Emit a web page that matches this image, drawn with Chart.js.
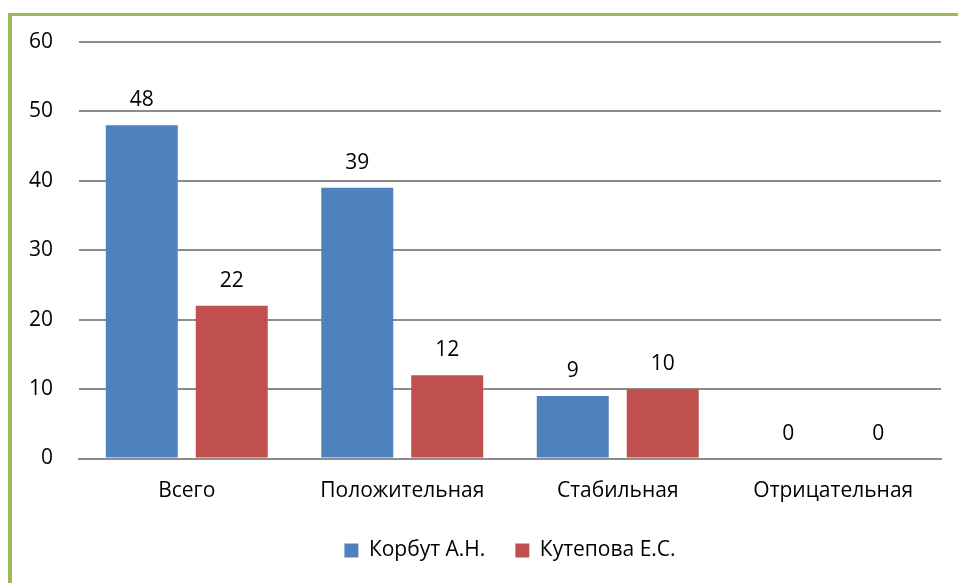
<!DOCTYPE html>
<html>
<head>
<meta charset="utf-8">
<script src="https://cdn.jsdelivr.net/npm/chart.js@4"></script>
<style>
  html, body { margin: 0; padding: 0; background: #fff; }
  #wrap { position: relative; width: 958px; height: 583px; }
  #frame {
    position: absolute; left: 8px; top: 13px; right: 0; bottom: 0;
    border-left: 4px solid #9BBB59; border-top: 3px solid #9BBB59;
    pointer-events: none;
  }
</style>
</head>
<body>
<div id="wrap">
  <canvas id="chart" width="958" height="583"></canvas>
  <div id="frame"></div>
</div>
<script>
const categories = ["Всего", "Положительная", "Стабильная", "Отрицательная"];
const korbut = [48, 39, 9, 0];
const kutepova = [22, 12, 10, 0];
const seriesNames = ["Корбут А.Н.", "Кутепова Е.С."];

const FONT = "'Open Sans', sans-serif";
const SIZE = 21;

// draws value labels above each bar
const valueLabels = {
  id: "valueLabels",
  afterDatasetsDraw(chart) {
    const ctx = chart.ctx;
    ctx.save();
    ctx.font = SIZE + "px " + FONT;
    ctx.fillStyle = "#000";
    ctx.textAlign = "center";
    ctx.textBaseline = "alphabetic";
    chart.data.datasets.forEach((ds, i) => {
      const meta = chart.getDatasetMeta(i);
      meta.data.forEach((bar, j) => {
        ctx.fillText(String(ds.data[j]), bar.x, bar.y - 19);
      });
    });
    ctx.restore();
  }
};

new Chart(document.getElementById("chart"), {
  type: "bar",
  data: {
    labels: categories,
    datasets: [
      { label: seriesNames[0], data: korbut, backgroundColor: "#4F81BD" },
      { label: seriesNames[1], data: kutepova, backgroundColor: "#C0504D" }
    ]
  },
  options: {
    responsive: false,
    animation: false,
    categoryPercentage: 0.835,
    barPercentage: 0.8,
    layout: { padding: { top: 42, right: 17, bottom: 12, left: 0 } },
    scales: {
      x: {
        grid: { display: false },
        border: { color: "#8c8c8c", width: 2 },
        ticks: { color: "#000", font: { family: FONT, size: SIZE }, padding: 12 },
        afterFit(scale) { scale.height = 51.5; }
      },
      y: {
        min: 0,
        max: 60,
        ticks: { stepSize: 10, color: "#000", font: { family: FONT, size: SIZE }, padding: 26 },
        grid: { color: "#8c8c8c", lineWidth: 2, drawTicks: false },
        border: { display: false },
        afterFit(scale) { scale.width = 79; }
      }
    },
    plugins: {
      legend: {
        position: "bottom",
        fullSize: false,
        labels: {
          color: "#000",
          font: { family: FONT, size: SIZE },
          boxWidth: 14,
          boxHeight: 14,
          padding: 30
        }
      },
      tooltip: { enabled: false }
    }
  },
  plugins: [valueLabels]
});
</script>
</body>
</html>
